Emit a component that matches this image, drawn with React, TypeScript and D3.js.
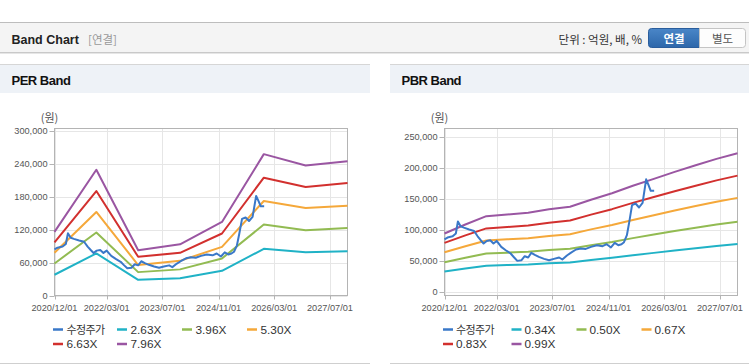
import React from 'react';
import * as d3 from 'd3';

const priceDates = ['2020-12-01','2020-12-27','2021-02-10','2021-03-10','2021-03-28','2021-04-22','2021-05-19','2021-07-04','2021-08-16','2021-09-16','2021-10-13','2021-11-07','2021-12-04','2022-01-04','2022-02-01','2022-03-01','2022-04-10','2022-05-19','2022-07-01','2022-08-01','2022-08-28','2022-10-04','2022-11-01','2022-12-01','2022-12-28','2023-01-28','2023-03-04','2023-04-19','2023-06-01','2023-07-13','2023-08-28','2023-09-25','2023-11-04','2023-12-07','2024-01-22','2024-03-04','2024-04-16','2024-06-01','2024-07-22','2024-09-10','2024-10-16','2024-11-22','2024-12-25','2025-01-25','2025-02-22','2025-03-16','2025-04-10','2025-05-01','2025-05-25','2025-06-25','2025-07-25','2025-08-25','2025-09-25','2025-10-16','2025-11-04','2025-12-04'];
const priceValues = [84000,87000,89000,93600,113000,105000,103000,100000,97700,89000,82700,77400,81600,82700,77400,81600,72000,66600,61300,54800,49400,50500,56900,54800,62300,59000,55800,52600,50500,52600,54800,51600,58100,62300,67700,69400,68700,72000,74700,73100,76300,71000,78400,74700,76300,79500,90800,112300,139200,141900,135500,142900,181000,171500,162300,162300];

const perBandDates = ['2020-12-01','2021-12-01','2022-12-01','2023-12-01','2024-12-01','2025-12-01','2026-12-01','2027-12-01'];
const per263 = [37700,76500,28500,31500,44900,84800,78800,80600];
const per396 = [58300,114500,42500,47500,67400,129000,118700,122900];
const per530 = [77600,151900,55300,63000,88400,171800,159100,163400];
const per663 = [96400,189900,70300,77600,112700,214200,197200,204400];
const per796 = [115600,228700,82400,93000,133700,257000,236500,244300];

const pbrBandDates = ['2020-12-01','2021-06-01','2021-12-01','2022-06-01','2022-12-01','2023-06-01','2023-12-01','2024-06-01','2024-12-01','2025-06-01','2025-12-01','2026-06-01','2026-12-01','2027-06-01','2027-12-01'];
const pbr034 = [32100,37000,41700,42600,43600,45400,46900,50800,54400,58500,62300,66200,69900,73400,76500];
const pbr050 = [47300,54500,61400,62700,64100,66900,69000,74700,80000,86100,91800,97500,102900,108000,112600];
const pbr067 = [63400,73100,82300,84100,86000,89700,92500,100200,107300,115400,123000,130700,137900,144800,151000];
const pbr083 = [78400,90500,101800,104100,106400,111000,114600,124000,132800,142900,152300,161700,170700,179200,186900];
const pbr099 = [93600,108000,121500,124200,127000,132500,136700,148000,158500,170500,181700,193000,203700,213900,223000];

const xTickLabels = ['2020/12/01','2022/03/01','2023/07/01','2024/11/01','2026/03/01','2027/07/01'];
const xDomain = ['2020-12-01','2027-12-01'];
const perYTicks = [0,60000,120000,180000,240000,300000];
const pbrYTicks = [0,50000,100000,150000,200000,250000];
const perLegend = ['수정주가','2.63X','3.96X','5.30X','6.63X','7.96X'];
const pbrLegend = ['수정주가','0.34X','0.50X','0.67X','0.83X','0.99X'];
const seriesColors = ['#3a78c8','#20b2c6','#92bb52','#f5a83a','#d2302e','#9a56a2'];

const parseD = d3.timeParse('%Y-%m-%d');
const parseTick = d3.timeParse('%Y/%m/%d');
const fmt = d3.format(',');
const FONT = "'Liberation Sans', Arial, 'Noto Sans CJK KR', sans-serif";
const KFONT = "'Noto Sans CJK KR', 'Liberation Sans', sans-serif";

type ChartProps = {
  title: string;
  panelX0: number;
  panelX1: number;
  plotLeft: number;
  plotRight: number;
  yMax: number;
  yZeroPx: number;
  yMaxPx: number;
  yTicks: number[];
  bandDates: string[];
  bands: number[][];
  legend: string[];
  legendCols: number[];
  textOff: number;
};

function BandChart(p: ChartProps) {
  const plotTop = 128.5;
  const plotBottom = 295.5;
  const x = d3.scaleTime()
    .domain(xDomain.map((d) => parseD(d) as Date))
    .range([p.plotLeft, p.plotRight]);
  const y = d3.scaleLinear().domain([0, p.yMax]).range([p.yZeroPx, p.yMaxPx]);
  const line = d3.line<[Date, number]>().x((d) => x(d[0])).y((d) => y(d[1]));
  const bandPaths = p.bands.map((vals) =>
    line(p.bandDates.map((d, i) => [parseD(d) as Date, vals[i]] as [Date, number]))
  );
  const pricePath = line(priceDates.map((d, i) => [parseD(d) as Date, priceValues[i]] as [Date, number]));
  const xt = xTickLabels.map((l) => ({ label: l, x: x(parseTick(l) as Date) }));
  const legendPos = p.legend.map((_, i) => ({
    x: p.legendCols[i % 4],
    y: i < 4 ? 329.5 : 344,
  }));

  return (
    <g>
      {/* panel title bar */}
      <line x1={p.panelX0} x2={p.panelX1} y1={64.5} y2={64.5} stroke="#d6d6d6" />
      <rect x={p.panelX0} y={65} width={p.panelX1 - p.panelX0} height={28} fill="#eef2f7" />
      <text x={p.panelX0 + 11.5} y={85} fontFamily={FONT} fontWeight="bold" fontSize={13} letterSpacing={-0.5} fill="#111">
        {p.title}
      </text>
      <line x1={p.panelX0} x2={p.panelX1} y1={363.5} y2={363.5} stroke="#cfcfcf" />

      {/* unit */}
      <text x={p.plotLeft - 5} y={122} textAnchor="middle" fontFamily={KFONT} fontSize={11} fill="#555">
        (원)
      </text>

      {/* plot bg */}
      <rect x={p.plotLeft} y={plotTop} width={p.plotRight - p.plotLeft} height={plotBottom - plotTop} fill="#fff" />
      {/* grid */}
      {p.yTicks.map((t) => (
        <line key={'gy' + t} x1={p.plotLeft} x2={p.plotRight} y1={Math.round(y(t)) + 0.5} y2={Math.round(y(t)) + 0.5} stroke="#e6e6e6" />
      ))}
      {xt.map((t) => (
        <line key={'gx' + t.label} x1={Math.round(t.x) + 0.5} x2={Math.round(t.x) + 0.5} y1={plotTop} y2={plotBottom} stroke="#e6e6e6" />
      ))}
      {/* border */}
      <rect x={p.plotLeft} y={plotTop} width={p.plotRight - p.plotLeft} height={plotBottom - plotTop} fill="none" stroke="#b4b4b4" />
      {/* y ticks */}
      {p.yTicks.map((t) => (
        <g key={'ty' + t}>
          <line x1={p.plotLeft - 5} x2={p.plotLeft} y1={Math.round(y(t)) + 0.5} y2={Math.round(y(t)) + 0.5} stroke="#b4b4b4" />
          <text x={p.plotLeft - 7} y={y(t) + 3.5} textAnchor="end" fontFamily={FONT} fontSize={9.2} fill="#555">
            {fmt(t)}
          </text>
        </g>
      ))}
      {/* x ticks */}
      {xt.map((t) => (
        <g key={'tx' + t.label}>
          <line x1={Math.round(t.x) + 0.5} x2={Math.round(t.x) + 0.5} y1={plotBottom} y2={plotBottom + 4} stroke="#b4b4b4" />
          <text x={t.x} y={311} textAnchor="middle" fontFamily={FONT} fontSize={9.2} fill="#555">
            {t.label}
          </text>
        </g>
      ))}

      {/* bands */}
      {bandPaths.map((d, i) => (
        <path key={'b' + i} d={d || ''} fill="none" stroke={seriesColors[i + 1]} strokeWidth={2} strokeLinejoin="round" />
      ))}
      <path d={pricePath || ''} fill="none" stroke={seriesColors[0]} strokeWidth={2} strokeLinejoin="round" />

      {/* legend */}
      {p.legend.map((l, i) => (
        <g key={'lg' + i}>
          <line x1={legendPos[i].x} x2={legendPos[i].x + 10} y1={legendPos[i].y} y2={legendPos[i].y} stroke={seriesColors[i]} strokeWidth={2.5} />
          <text
            x={legendPos[i].x + p.textOff}
            y={legendPos[i].y + 4.3}
            fontFamily={i === 0 ? KFONT : FONT}
            fontSize={i === 0 ? 11 : 11.8}
            letterSpacing={i === 0 ? -0.6 : 0}
            fill="#333"
          >
            {l}
          </text>
        </g>
      ))}
    </g>
  );
}

export default function App() {
  return (
    <div style={{ position: 'absolute', left: 0, top: 0, width: 749, height: 364 }}>
      <svg width={749} height={364} style={{ display: 'block' }}>
        <rect x={0} y={0} width={749} height={364} fill="#fff" />
        {/* header */}
        <rect x={0} y={22} width={749} height={31} fill="#f4f4f4" />
        <line x1={0} x2={749} y1={22.5} y2={22.5} stroke="#bdbdbd" />
        <line x1={0} x2={749} y1={52.5} y2={52.5} stroke="#c9c9c9" />
        <line x1={0} x2={749} y1={53.5} y2={53.5} stroke="#e6e6e6" />
        <text x={11.5} y={43.5} fontFamily={FONT} fontWeight="bold" fontSize={12.5} fill="#222">
          Band Chart
        </text>
        <text x={88} y={43.5} fontFamily={KFONT} fontSize={11.5} fill="#999">
          [연결]
        </text>
        <text x={642} y={43.5} textAnchor="end" fontFamily={KFONT} fontSize={11.5} fill="#333">
          단위 : 억원, 배, %
        </text>
        <defs>
          <linearGradient id="btnBlue" x1="0" y1="0" x2="0" y2="1">
            <stop offset="0" stopColor="#4a86c8" />
            <stop offset="1" stopColor="#2d67aa" />
          </linearGradient>
        </defs>
        <path d="M699.5,28.5 H651.5 a3,3 0 0 0 -3,3 V44.5 a3,3 0 0 0 3,3 H699.5 Z" fill="url(#btnBlue)" stroke="#2a5d9c" />
        <text x={674} y={42.5} textAnchor="middle" fontFamily={KFONT} fontWeight="bold" fontSize={11.5} fill="#fff">
          연결
        </text>
        <path d="M699.5,28.5 H742.5 a3,3 0 0 1 3,3 V44.5 a3,3 0 0 1 -3,3 H699.5 Z" fill="#fdfdfd" stroke="#c4c4c4" />
        <text x={722.5} y={42.5} textAnchor="middle" fontFamily={KFONT} fontSize={11.5} fill="#555">
          별도
        </text>

        <BandChart
          title="PER Band"
          panelX0={0}
          panelX1={370}
          plotLeft={54.5}
          plotRight={347.5}
          yMax={300000}
          yZeroPx={295.5}
          yMaxPx={130.5}
          yTicks={perYTicks}
          bandDates={perBandDates}
          bands={[per263, per396, per530, per663, per796]}
          legend={perLegend}
          legendCols={[53, 117, 182, 247]}
          textOff={13.5}
        />
        <BandChart
          title="PBR Band"
          panelX0={390}
          panelX1={749}
          plotLeft={444.5}
          plotRight={737.5}
          yMax={250000}
          yZeroPx={291.5}
          yMaxPx={136.5}
          yTicks={pbrYTicks}
          bandDates={pbrBandDates}
          bands={[pbr034, pbr050, pbr067, pbr083, pbr099]}
          legend={pbrLegend}
          legendCols={[443, 511.5, 576.5, 641.5]}
          textOff={13}
        />
      </svg>
    </div>
  );
}
